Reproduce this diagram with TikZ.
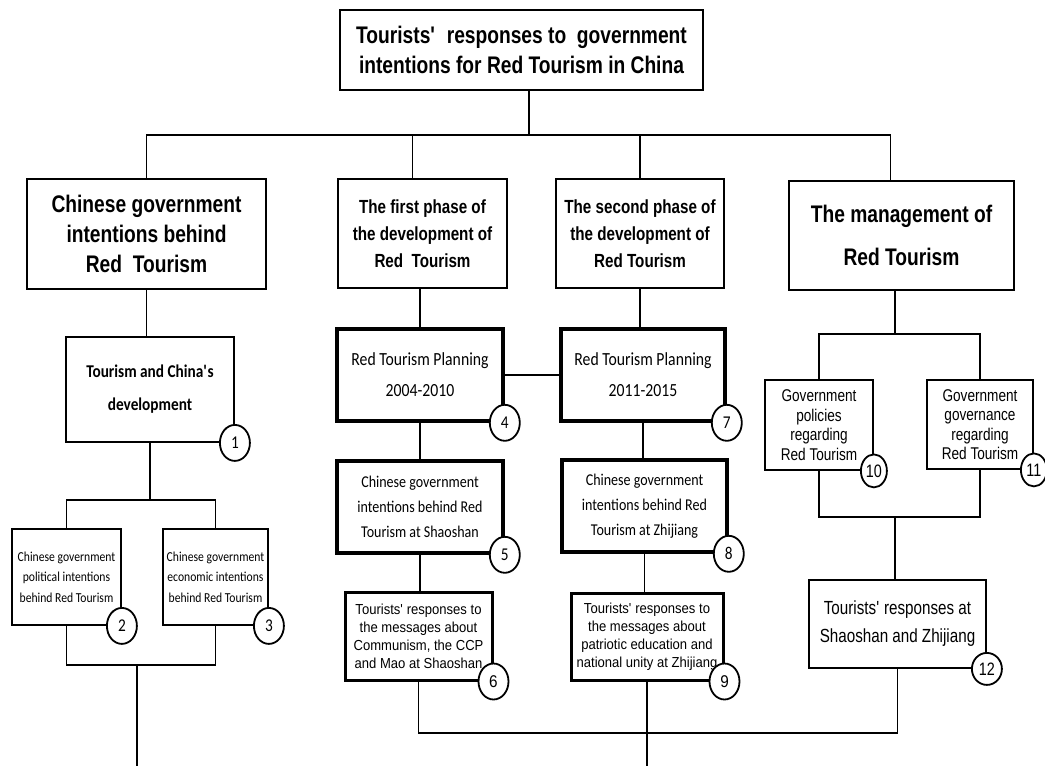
\documentclass[tikz,border=0pt]{standalone}
\usepackage{fontspec}
\setmainfont{Liberation Sans}[FakeStretch=0.8]
\newfontfamily\arialw{Liberation Sans}[FakeStretch=0.9]
\newfontfamily\calib{Carlito}[FakeStretch=0.85]
\usetikzlibrary{shapes.geometric}
\newcommand{\fs}[2]{\fontsize{#1}{#2}\selectfont}
\tikzset{box/.style={draw, line width=1.8pt, inner sep=0pt, align=center},
  thickbox/.style={box, line width=3.6pt},
  numcirc/.style={draw, fill=white, ellipse, line width=1.8pt, inner sep=0pt,
    minimum width=30pt, minimum height=36pt, font=\calib\fs{18}{18}}
}

\begin{document}
\begin{tikzpicture}[x=1pt, y=-1pt, line width=1.8pt]
      \useasboundingbox (0,0) rectangle (1045,766);
      % top
      \node[box, minimum width=363pt, minimum height=80pt, font=\bfseries\fs{24}{30}] (top) at (521.5,50)
        {Tourists\textquotesingle\ \ responses to\ \ government\\intentions for Red Tourism in China};
      % first level
      \node[box, minimum width=239pt, minimum height=110pt, font=\bfseries\fs{24}{30}] (A) at (146.5,234)
        {Chinese government\\intentions behind\\Red\ \ Tourism};
      \node[box, minimum width=169pt, minimum height=109pt, font=\bfseries\fs{19}{27}] (B) at (422.5,233.5)
        {The first phase of\\the development of\\Red\ \ Tourism};
      \node[box, minimum width=168pt, minimum height=109pt, font=\bfseries\fs{19}{27}] (C) at (640,233.5)
        {The second phase of\\the development of\\Red Tourism};
      \node[box, minimum width=225pt, minimum height=109pt, font=\bfseries\fs{24}{43}] (D) at (901.5,235.5)
        {The management of\\Red Tourism};
      % left column
      \node[box, minimum width=168pt, minimum height=105pt, font=\calib\bfseries\fs{18}{33}] (b1) at (150,389.5)
        {Tourism and China\textquotesingle s\\development};
      \node[box, minimum width=109pt, minimum height=96pt, font=\calib\fs{13.7}{20.5}] (b2) at (66.5,577)
        {Chinese government\\political intentions\\behind Red Tourism};
      \node[box, minimum width=105pt, minimum height=96pt, font=\calib\fs{13.7}{20.5}] (b3) at (215.5,577)
        {Chinese government\\economic intentions\\behind Red Tourism};
      % middle columns
      \node[thickbox, minimum width=166pt, minimum height=92pt, font=\calib\fs{18.5}{31}] (b4) at (420,375)
        {Red Tourism Planning\\2004-2010};
      \node[thickbox, minimum width=166pt, minimum height=92pt, font=\calib\fs{16.5}{25}] (b5) at (420,507)
        {Chinese government\\intentions behind Red\\Tourism at Shaoshan};
      \node[thickbox, line width=3pt, minimum width=147pt, minimum height=88pt, font=\arialw\fs{14.5}{18}] (b6) at (418.5,636)
        {Tourists\textquotesingle\ responses to\\the messages about\\Communism, the CCP\\and Mao at Shaoshan};
      \node[thickbox, minimum width=164pt, minimum height=92pt, font=\calib\fs{18.5}{31}] (b7) at (643,375)
        {Red Tourism Planning\\2011-2015};
      \node[thickbox, minimum width=165pt, minimum height=92pt, font=\calib\fs{16.5}{25}] (b8) at (644.5,506)
        {Chinese government\\intentions behind Red\\Tourism at Zhijiang};
      \node[thickbox, line width=3pt, minimum width=152pt, minimum height=87pt, font=\arialw\fs{14.5}{18}] (b9) at (647,636.5)
        {Tourists\textquotesingle\ responses to\\the messages about\\patriotic education and\\national unity at Zhijiang};
      % right column
      \node[box, minimum width=108pt, minimum height=90pt, font=\fs{17}{19.5}] (b10) at (819,425)
        {Government\\policies\\regarding\\Red Tourism};
      \node[box, minimum width=106pt, minimum height=89pt, font=\fs{17}{19.5}] (b11) at (980,424.5)
        {Government\\governance\\regarding\\Red Tourism};
      \node[box, minimum width=177pt, minimum height=88pt, font=\fs{19}{28}] (b12) at (897.5,624)
        {Tourists\textquotesingle\ responses at\\Shaoshan and Zhijiang};
      % connectors
      \coordinate (bus1) at (529,135);
      \draw (top.south -| bus1) -- (bus1);
      \draw (A.north) |- (bus1) -| ([xshift=-11pt]D.north);
      \draw ([xshift=-10pt]B.north) -- ++(0,-44);
      \draw (C.north) -- ++(0,-44);
      \draw (A.south) -- (A.south |- b1.north);
      \draw (b1.south) -- ++(0,57) coordinate (f1);
      \draw (b2.north) |- (f1) -| (b3.north);
      \coordinate (f2) at (137,665);
      \coordinate (endL) at (137,766);
      \draw (b2.south) |- (f2) -| (b3.south);
      \draw (f2) -- (endL);
      \draw (b4.north) -- (b4.north |- B.south);
      \draw (b4.east) -- (b7.west);
      \draw (C.south) -- (C.south |- b7.north);
      \draw (b4.south) -- (b5.north);
      \draw (b7.south) -- (b7.south |- b8.north);
      \draw (b5.south) -- (b5.south |- b6.north);
      \draw (b8.south) -- (b8.south |- b9.north);
      \coordinate (busB) at (647,733);
      \coordinate (endM) at (647,766);
      \draw (b6.south) |- (busB) -| (b12.south);
      \draw (b9.south) -- (endM);
      \coordinate (f3) at (895,334);
      \draw (f3 |- D.south) -- (f3);
      \draw (b10.north) |- (f3) -| (b11.north);
      \coordinate (f4) at (895,517);
      \draw (b10.south) |- (f4) -| (b11.south);
      \draw (f4) -- (f4 |- b12.north);
      % numbers
      \node[numcirc] (n1) at (b1.south east) {1};
      \node[numcirc] (n2) at (b2.south east) {2};
      \node[numcirc] (n3) at (b3.south east) {3};
      \node[numcirc] (n4) at (b4.south east) {4};
      \node[numcirc] (n5) at (b5.south east) {5};
      \node[numcirc, font=\arialw\fs{17}{17}] (n6) at (b6.south east) {6};
      \node[numcirc] (n7) at (b7.south east) {7};
      \node[numcirc] (n8) at (b8.south east) {8};
      \node[numcirc, font=\arialw\fs{17}{17}] (n9) at (b9.south east) {9};
      \node[numcirc, minimum width=26pt, minimum height=33pt, font=\fs{18}{18}] (n10) at (b10.south east) {10};
      \node[numcirc, minimum width=26pt, minimum height=33pt, font=\fs{18}{18}] (n11) at (b11.south east) {11};
      \node[numcirc, minimum height=32pt, font=\fs{18}{18}] (n12) at (b12.south east) {12};
    \end{tikzpicture}
\end{document}
